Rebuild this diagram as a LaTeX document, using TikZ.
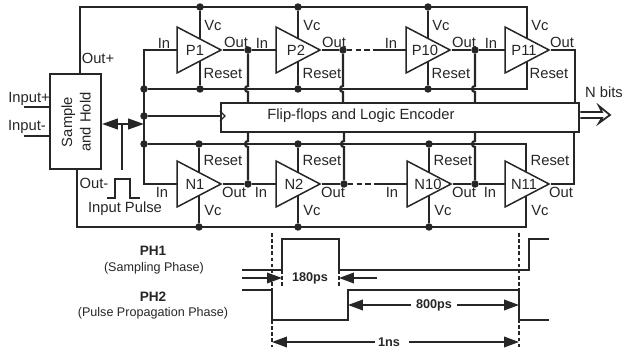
\documentclass[tikz,border=0pt]{standalone}
\usepackage{fontspec}
\setmainfont{Liberation Sans}
\usetikzlibrary{shapes.geometric,arrows.meta,backgrounds}

\begin{document}
\begin{tikzpicture}[
    x=0.04cm, y=-0.04cm,
    wire/.style={line width=2.5pt, draw=black!85},
    thinwire/.style={line width=1.6pt, draw=black!85},
    dotnode/.style={circle, fill=black!85, inner sep=0pt, minimum size=8.5pt},
    amp/.style={isosceles triangle, isosceles triangle stretches, draw=black!85, line width=1.7pt, fill=white, minimum width=46*1.134pt, minimum height=44*1.134pt, inner sep=0pt, anchor=apex},
    lbl/.style={font=\fontsize{16.8}{21}\selectfont, text=black!85, inner sep=0pt},
    small/.style={font=\fontsize{14.3}{16}\selectfont, text=black!85, inner sep=0pt},
    boldlbl/.style={font=\fontsize{14.4}{16}\selectfont\bfseries, text=black!85, inner sep=0pt},
    phlbl/.style={font=\fontsize{15.5}{17}\selectfont\bfseries, text=black!85, inner sep=0pt},
    dim/.style={line width=2pt, draw=black!85, -{Triangle[length=17pt,width=12pt]}},
    tick/.style={line width=2pt, draw=black!85, dash pattern=on 4pt off 3pt},
    wave/.style={line width=2.4pt, draw=black!85}
]
\useasboundingbox (0,0) rectangle (623,354);

% Comparators, upper row
\node[amp] (P1) at (223,50) {};
\node[amp] (P2) at (322,50) {};
\node[amp] (P10) at (452,50) {};
\node[amp] (P11) at (551,50) {};

% Comparators, lower row
\node[amp] (N1) at (223,184) {};
\node[amp] (N2) at (322,184) {};
\node[amp] (N10) at (453,184) {};
\node[amp] (N11) at (551,184) {};

% Blocks
\node[draw=black!85, line width=2.5pt, minimum width=51*1.134pt, minimum height=95*1.134pt, inner sep=0pt] (sh) at (75.5,121.5) {};
\node[draw=black!85, line width=2.5pt, fill=white, minimum width=360*1.134pt, minimum height=29*1.134pt, inner sep=0pt] (enc) at (400,117.5) {};
\node[lbl] (enctext) at (361,116) {Flip-flops and Logic Encoder};
\node[lbl, rotate=90, align=center] (shtext) at (76,122) {Sample\\and Hold};

% Rail and junction points
\node[dotnode] (vp1) at (200,7) {};
\node[dotnode] (vp2) at (298,7) {};
\node[dotnode] (vp10) at (428,7) {};
\coordinate (vp11) at (527,7);
\coordinate (vp0) at (80,7);
\node[dotnode] (rp0) at (144,89) {};
\node[dotnode] (rp1) at (200,89) {};
\node[dotnode] (rp2) at (298,89) {};
\node[dotnode] (rp10) at (428,89) {};
\coordinate (rp11) at (527,89);
\node[dotnode] (op1) at (248,50) {};
\node[dotnode] (op2) at (343,50) {};
\node[dotnode] (op10) at (475,50) {};
\coordinate (op11) at (575,50);
\node[dotnode] (clk) at (144,116) {};
\node[dotnode] (rn0) at (144,144) {};
\node[dotnode] (rn1) at (199,144) {};
\node[dotnode] (rn2) at (298,144) {};
\node[dotnode] (rn10) at (429,144) {};
\coordinate (rn11) at (526,144);
\node[dotnode] (on1) at (248,184) {};
\node[dotnode] (on2) at (344,184) {};
\node[dotnode] (on10) at (475,184) {};
\coordinate (on11) at (574,184);
\node[dotnode] (vn1) at (199,227) {};
\node[dotnode] (vn2) at (298,227) {};
\node[dotnode] (vn10) at (429,227) {};
\coordinate (vn11) at (526,227);
\coordinate (vn0) at (77,227);
\coordinate (mid) at (122,124);
\coordinate (inp) at (24,107);
\coordinate (inm) at (24,136);
\coordinate (dash1) at (374,50);
\coordinate (dash2) at (375,184);

% Wires behind the comparators
\begin{scope}[on background layer]
\draw[wire] (sh.north -| vp0) -- (vp0) -- (vp11) -- (rp11) -- (rp0);
\draw[wire] (vp1) -- (rp1);
\draw[wire] (vp2) -- (rp2);
\draw[wire] (vp10) -- (rp10);
\draw[wire] (sh.south -| vn0) -- (vn0) -- (vn11) -- (rn11) -- (rn0);
\draw[wire] (vn1) -- (rn1);
\draw[wire] (vn2) -- (rn2);
\draw[wire] (vn10) -- (rn10);
% In lines
\draw[wire] (P1.center) -- (P1.center -| rp0) -- (rn0 |- N1.center) -- (N1.center);
\draw[wire] (op1) -- (P2.center);
\draw[wire] (P2.apex) -- (op2);
\draw[wire] (dash1) -- (P10.center);
\draw[wire, dash pattern=on 6pt off 4pt] (op2) -- (dash1);
\draw[wire] (P10.apex) -- (op10) -- (P11.center);
\draw[wire] (P1.apex) -- (op1);
\draw[wire] (P11.apex) -- (op11) -- (op11 |- enc.north);
\draw[wire] (N1.apex) -- (on1) -- (N2.center);
\draw[wire] (N2.apex) -- (on2);
\draw[wire, dash pattern=on 6pt off 4pt] (on2) -- (dash2);
\draw[wire] (dash2) -- (N10.center);
\draw[wire] (N10.apex) -- (on10) -- (N11.center);
\draw[wire] (N11.apex) -- (on11) -- (on11 |- enc.south);
% Hops over the reset rails
\draw[wire] (op1) -- ++(0,36) arc[start angle=90, delta angle=180, radius=3*1.134pt] -- (op1 |- enc.north);
\draw[wire] (op2) -- ++(0,36) arc[start angle=90, delta angle=180, radius=3*1.134pt] -- (op2 |- enc.north);
\draw[wire] (op10) -- ++(0,36) arc[start angle=90, delta angle=180, radius=3*1.134pt] -- (op10 |- enc.north);
\draw[wire] (on1) -- ++(0,-37) arc[start angle=-90, delta angle=-180, radius=3*1.134pt] -- (on1 |- enc.south);
\draw[wire] (on2) -- ++(0,-37) arc[start angle=-90, delta angle=-180, radius=3*1.134pt] -- (on2 |- enc.south);
\draw[wire] (on10) -- ++(0,-37) arc[start angle=-90, delta angle=-180, radius=3*1.134pt] -- (on10 |- enc.south);
\end{scope}

% Sample and hold connections
\draw[wire] (clk) -- (clk |- rn0);
\draw[wire] (clk |- rp0) -- (clk);
\draw[wire] (clk) -- (enc.west |- clk);
\draw[thinwire] (220,111) -- (225,116) -- (220,121);
\draw[wire, {Triangle[length=18pt,width=12pt]}-{Triangle[length=18pt,width=12pt]}] (sh.east |- mid) -- (clk |- mid);
\draw[wire] (mid) -- (122,170);
\draw[wire] (inp) -- (sh.west |- inp);
\draw[wire] (inm) -- (sh.west |- inm);
\draw[thinwire, fill=white, line width=2pt, line join=miter] (enc.east |- 0,112) -- (602,112) -- (599,106) -- (610,115) -- (599,123) -- (602,118) -- (enc.east |- 0,118);
\draw[wire] (107,198) -- (115,198) -- (115,179) -- (130,179) -- (130,198) -- (140,198);

% Labels, upper row
\node[lbl] (tP1) at (195,50) {P1};
\node[lbl] (tP2) at (296,50) {P2};
\node[lbl] (tP10) at (425,50) {P10};
\node[lbl] (tP11) at (524,50) {P11};
\node[lbl] (tN1) at (195,184) {N1};
\node[lbl] (tN2) at (294,184) {N2};
\node[lbl] (tN10) at (428,184) {N10};
\node[lbl] (tN11) at (524,184) {N11};

\node[lbl] (vc1) at (213,25) {Vc};
\node[lbl] (vc2) at (312,25) {Vc};
\node[lbl] (vc10) at (441,25) {Vc};
\node[lbl] (vc11) at (540,25) {Vc};
\node[lbl] (in1) at (164,43) {In};
\node[lbl] (in2) at (262,43) {In};
\node[lbl] (in10) at (391,43) {In};
\node[lbl] (in11) at (491,43) {In};
\node[lbl] (out1) at (236,42) {Out};
\node[lbl] (out2) at (334,42) {Out};
\node[lbl] (out10) at (464,42) {Out};
\node[lbl] (out11) at (562,42) {Out};
\node[lbl] (res1) at (223,73) {Reset};
\node[lbl] (res2) at (322,73) {Reset};
\node[lbl] (res10) at (451,73) {Reset};
\node[lbl] (res11) at (549,73) {Reset};

% Labels, lower row
\node[lbl] (res3) at (223,160) {Reset};
\node[lbl] (res4) at (322,160) {Reset};
\node[lbl] (res5) at (453,160) {Reset};
\node[lbl] (res6) at (550,160) {Reset};
\node[lbl] (in3) at (162,192) {In};
\node[lbl] (in4) at (261,192) {In};
\node[lbl] (in5) at (392,192) {In};
\node[lbl] (in6) at (490,192) {In};
\node[lbl] (out3) at (234,192) {Out};
\node[lbl] (out4) at (333,192) {Out};
\node[lbl] (out5) at (464,192) {Out};
\node[lbl] (out6) at (561,192) {Out};
\node[lbl] (vc3) at (213,210) {Vc};
\node[lbl] (vc4) at (312,210) {Vc};
\node[lbl] (vc5) at (443,210) {Vc};
\node[lbl] (vc6) at (540,210) {Vc};

\node[lbl] (outp) at (98,58) {Out+};
\node[lbl] (outm) at (94,183) {Out-};
\node[lbl] (inplbl) at (29,99) {Input+};
\node[lbl] (inmlbl) at (27,127) {Input-};
\node[lbl] (pulse) at (125,209) {Input Pulse};
\node[lbl] (nbits) at (604,92) {N bits};

% Timing waveforms
\node[phlbl] (ph1) at (153,251) {PH1};
\node[small] (ph1sub) at (154,268) {(Sampling Phase)};
\node[phlbl] (ph2) at (153,297) {PH2};
\node[small] (ph2sub) at (153,313) {(Pulse Propagation Phase)};
\draw[wave] (242,270) -- (282,270) -- (282,239) -- (339,239) -- (339,270) -- (529,270) -- (529,239) -- (549,239);
\draw[wave] (242,290) -- (272,290) -- (272,320) -- (348,320) -- (348,290) -- (519,290) -- (519,320) -- (549,320);
\coordinate (t0) at (272,233);
\coordinate (t1) at (519,233);
\coordinate (t2) at (272,347);
\coordinate (t3) at (519,347);
\draw[tick] (t0) -- (272,290);
\draw[tick] (272,320) -- (t2);
\draw[tick] (t1) -- (t3);
\draw[tick] (282,270) -- (282,286);
\draw[tick] (339,270) -- (339,286);
\node[boldlbl] (t180) at (310,278) {180ps};
\node[boldlbl] (t800) at (434,305) {800ps};
\node[boldlbl] (t1ns) at (389,342) {1ns};
\draw[dim] (242,278) -- (282,278);
\draw[dim] (377,278) -- (339,278);
\draw[dim] (t800.west) ++(-5,0) -- (348,305);
\draw[dim] (t800.east) ++(5,0) -- (519,305);
\draw[dim] (t1ns.west) ++(-3,0) -- (272,342);
\draw[dim] (t1ns.east) ++(9,0) -- (519,342);
\end{tikzpicture}
\end{document}
